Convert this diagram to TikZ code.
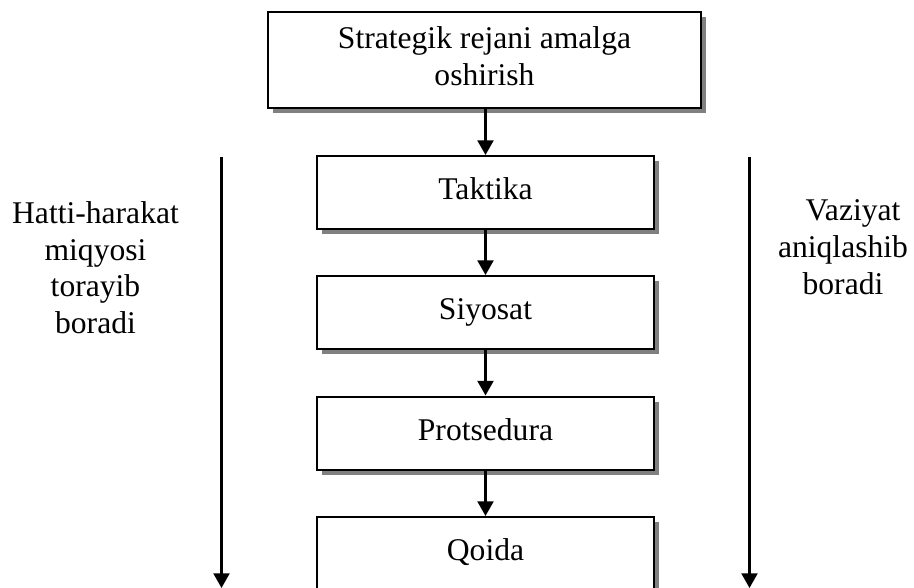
\documentclass[tikz,border=0pt]{standalone}
\usepackage{fontspec}
\setmainfont{Liberation Serif}
\usetikzlibrary{arrows.meta,shadows}
\definecolor{shadowgray}{HTML}{808080}
\begin{document}
\begin{tikzpicture}[x=0.75pt,y=-0.75pt,
  font=\fontsize{23.7}{27.5}\selectfont,
  box/.style={draw=black, line width=1.5pt, fill=white, inner sep=0pt,
    align=center, minimum width=337*0.75pt, minimum height=73*0.75pt,
    drop shadow={shadow xshift=3.75pt, shadow yshift=-3.75pt, fill=shadowgray, opacity=1}},
  flow/.style={line width=1.6pt, -{Triangle[width=12pt,length=11pt]}},
  side/.style={align=center, inner sep=0pt}]
\clip (0,0) rectangle (914,588);
\fill[white] (0,0) rectangle (914,588);
\node[box, minimum width=433*0.75pt, minimum height=96*0.75pt] (plan) at (484.5,60) {\strut Strategik rejani amalga\\ oshirish\strut};
\node[box] (taktika) at (485.5,192.5) {\strut Taktika};
\node[box] (siyosat) at (485.5,312.5) {\strut Siyosat};
\node[box] (protsedura) at (485.5,433) {\strut Protsedura};
\node[box] (qoida) at (485.5,553.5) {\strut Qoida};
\draw[flow] (plan.south -| taktika.north) -- (taktika.north);
\draw[flow] (taktika) -- (siyosat);
\draw[flow] (siyosat) -- (protsedura);
\draw[flow] (protsedura) -- (qoida);
\coordinate (ltop) at (221.5,157);
\coordinate (lbot) at (221.5,588);
\coordinate (rtop) at (749.5,157);
\coordinate (rbot) at (749.5,588);
\draw[flow] (ltop) -- (lbot);
\draw[flow] (rtop) -- (rbot);
\node[side] (left) at (95.5,271) {\strut Hatti-harakat\\ miqyosi\\ torayib\\ boradi\strut};
\node[side] (right) at (843,250) {\strut\hspace*{15pt}Vaziyat\\ aniqlashib\\ boradi\strut};
\end{tikzpicture}
\end{document}
